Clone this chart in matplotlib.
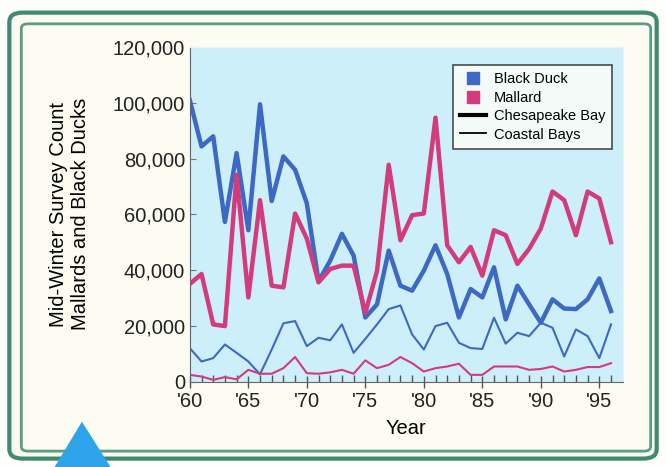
import numpy as np
import matplotlib.pyplot as plt
from matplotlib.patches import FancyBboxPatch, Polygon
from matplotlib.lines import Line2D

plt.rcParams['font.family'] = ['Liberation Sans', 'DejaVu Sans']

# survey years and counts
years = list(range(1960, 1997))

black_duck_chesapeake = [101000, 84400, 88000, 57300, 82000, 54300, 99500, 64800, 80800, 76000,
                         64000, 36000, 43400, 53000, 45200, 23000, 27700, 47000, 34400, 32600,
                         39800, 48900, 38600, 23000, 33200, 30200, 41000, 22300, 34400, 27700,
                         21100, 29500, 26200, 26000, 29500, 37000, 25300]
mallard_chesapeake = [35000, 38600, 20500, 19900, 74200, 30200, 65100, 34400, 33800, 60300,
                      51300, 35600, 40400, 41600, 41600, 24700, 39600, 77800, 50700, 59700,
                      60300, 94700, 48900, 42800, 48300, 38000, 54300, 52500, 42200, 47600,
                      54900, 68200, 65100, 52500, 68200, 65700, 50000]
black_duck_coastal = [12000, 7200, 8400, 13300, 10300, 7200, 2600, 11500, 20900, 21700,
                      12700, 15700, 14800, 20500, 10300, 15300, 20500, 26000, 27300, 16900,
                      11500, 19900, 21100, 13900, 12000, 11700, 22900, 13600, 17500, 16300,
                      21100, 19300, 9000, 18700, 16300, 8400, 20500]
mallard_coastal = [2400, 1800, 600, 1600, 800, 4200, 2800, 2800, 4800, 8800,
                   3000, 2800, 3300, 4200, 2800, 7600, 4800, 6000, 8800, 6600,
                   3600, 4800, 5400, 6400, 2400, 2400, 5400, 5400, 5400, 4200,
                   4500, 5400, 3600, 4200, 5200, 5200, 6600]

tick_years = [1960, 1965, 1970, 1975, 1980, 1985, 1990, 1995]
tick_labels = ["'60", "'65", "'70", "'75", "'80", "'85", "'90", "'95"]

blue = '#3d68c4'
red = '#d33b7c'

fig = plt.figure(figsize=(6.66, 4.67), dpi=100)
fig.patch.set_facecolor('#fefefb')

# green double frame, kept behind the axes
outer = FancyBboxPatch((0.014, 0.018), 0.972, 0.955, boxstyle='round,pad=0,rounding_size=0.02',
                       transform=fig.transFigure, facecolor='#fbfbf1', edgecolor='#3f8a70',
                       lw=3, zorder=-3)
inner = FancyBboxPatch((0.032, 0.034), 0.945, 0.915, boxstyle='round,pad=0,rounding_size=0.01',
                       transform=fig.transFigure, facecolor='#fcfcf3', edgecolor='#5a9c84',
                       lw=2, zorder=-2)
# blue triangle at lower left
tri = Polygon([(0.082, 0.0), (0.123, 0.097), (0.166, 0.0)], closed=True,
              transform=fig.transFigure, facecolor='#2ea4ea', edgecolor='none', zorder=-1)
fig.patches.extend([outer, inner, tri])

ax = fig.add_axes([0.285, 0.183, 0.65, 0.716])
ax.set_facecolor('#cdeff9')

ax.plot(years, black_duck_chesapeake, color=blue, lw=3.2)
ax.plot(years, mallard_chesapeake, color=red, lw=3.2)
ax.plot(years, black_duck_coastal, color=blue, lw=1.5)
ax.plot(years, mallard_coastal, color=red, lw=1.5)

ax.set_xlim(1960, 1997)
ax.set_ylim(0, 120000)
ax.set_yticks(np.arange(0, 120001, 20000))
ax.set_yticklabels([f'{v:,}' for v in range(0, 120001, 20000)])
ax.set_xticks(tick_years)
ax.set_xticklabels(tick_labels)
ax.set_xticks(years, minor=True)
ax.tick_params(axis='both', labelsize=14.5, colors='#222222')
ax.tick_params(axis='x', which='major', direction='inout', length=8, width=1, color='#555555')
ax.tick_params(axis='x', which='minor', direction='in', length=5, width=1, color='#555555')
ax.tick_params(axis='y', direction='in', length=4, color='#777777')

for side in ['top', 'right']:
    ax.spines[side].set_color('#e6f4f8')
for side in ['left', 'bottom']:
    ax.spines[side].set_color('#666666')

ax.set_xlabel('Year', fontsize=14.5, labelpad=6)
ax.set_ylabel('Mid-Winter Survey Count\nMallards and Black Ducks', fontsize=14.5,
              labelpad=16, linespacing=1.25)

handles = [
    Line2D([], [], marker='s', color='none', markerfacecolor=blue, markeredgecolor=blue, markersize=8),
    Line2D([], [], marker='s', color='none', markerfacecolor=red, markeredgecolor=red, markersize=8),
    Line2D([], [], color='black', lw=3),
    Line2D([], [], color='black', lw=1.3),
]
leg = ax.legend(handles, ['Black Duck', 'Mallard', 'Chesapeake Bay', 'Coastal Bays'],
                loc='upper right', fontsize=10.5, frameon=True, fancybox=False,
                handlelength=1.8, handletextpad=0.5, labelspacing=0.3, borderpad=0.5,
                bbox_to_anchor=(0.993, 0.968))
leg.get_frame().set_edgecolor('#222222')
leg.get_frame().set_facecolor('#fdfdf7')
leg.get_frame().set_linewidth(1.2)

fig.savefig('out.png', dpi=100)
